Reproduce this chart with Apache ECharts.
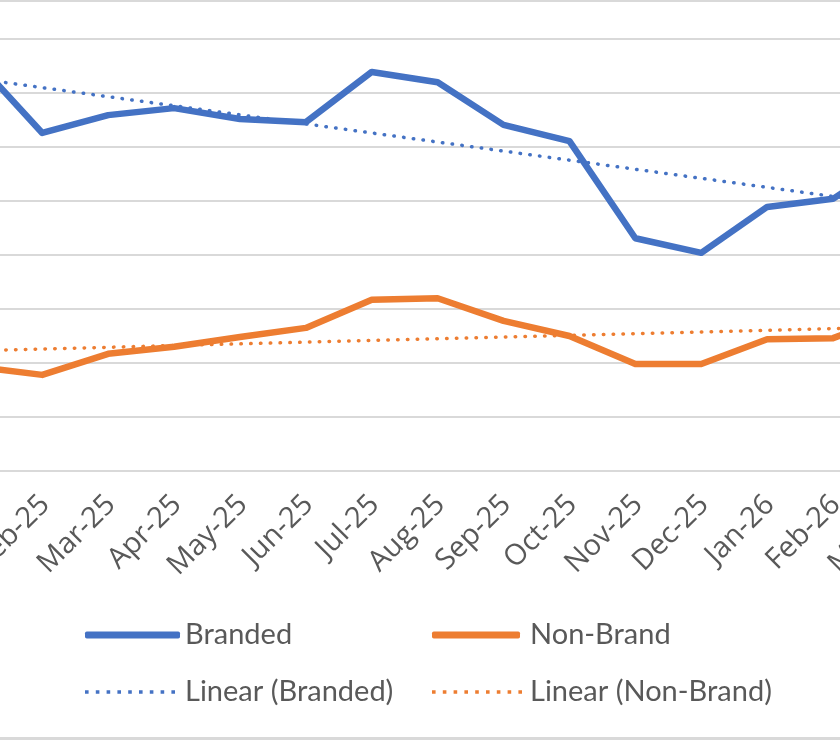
<!DOCTYPE html>
<html>
<head>
<meta charset="utf-8">
<script src="https://cdn.jsdelivr.net/npm/echarts@6/dist/echarts.min.js"></script>
<style>
  html, body { margin: 0; padding: 0; overflow: hidden; background: #fff; }
  /* chart is wider than the window: the reference is cropped left and right */
  #chart { position: absolute; left: -100px; top: 0; width: 1100px; height: 740px; }
</style>
</head>
<body>
<div id="chart"></div>
<script>
const months = ['Jan-25', 'Feb-25', 'Mar-25', 'Apr-25', 'May-25', 'Jun-25', 'Jul-25', 'Aug-25',
  'Sep-25', 'Oct-25', 'Nov-25', 'Dec-25', 'Jan-26', 'Feb-26', 'Mar-26']
const branded = [7590, 6260, 6590, 6720, 6520, 6460, 7390, 7200, 6410, 6110, 4310, 4040, 4890, 5040, 5850]
const nonBrand = [1930, 1780, 2170, 2300, 2480, 2650, 3170, 3200, 2780, 2500, 1980, 1980, 2440, 2460, 2910]

const BLUE = '#4472C4'
const ORANGE = '#ED7D31'
const GRID = '#d9d9d9'
const TEXT = '#595959'
const FONT = 'Lato, "Open Sans", sans-serif'

// least squares trend, same as Excel "Linear" trendline
function linearTrend(values) {
  const n = values.length
  let sx = 0, sy = 0, sxy = 0, sxx = 0
  values.forEach((v, i) => { sx += i; sy += v; sxy += i * v; sxx += i * i })
  const slope = (n * sxy - sx * sy) / (n * sxx - sx * sx)
  const b = (sy - slope * sx) / n
  return values.map((v, i) => +(b + slope * i).toFixed(1))
}

// 9 little dots for the trendline legend icon
let dots = ''
for (let i = 0; i < 9; i++) dots += 'M' + (i * 3) + ',0h1v1h-1z'
const dotIcon = 'path://' + dots

const chart = echarts.init(document.getElementById('chart'))

function legendAt(name, left, top, icon, w, h, gap) {
  return {
    data: [{ name: name, icon: icon }],
    left: left, top: top, padding: 0,
    itemWidth: w, itemHeight: h, itemGap: 0,
    textStyle: { fontFamily: FONT, fontSize: 29, color: TEXT, lineHeight: 32, padding: [0, 0, 0, gap] },
    selectedMode: false
  }
}

chart.setOption({
  animation: false,
  grid: { left: 43.4, top: 39, width: 988.5, height: 432 },
  legend: [
    legendAt('Branded', 185, 619, 'roundRect', 95, 7, 0),
    legendAt('Non-Brand', 532, 619, 'roundRect', 88, 7, 5),
    legendAt('Linear (Branded)', 185, 676, dotIcon, 90, 3.6, 5),
    legendAt('Linear (Non-Brand)', 532, 676, dotIcon, 90, 3.6, 3)
  ],
  xAxis: {
    type: 'category',
    data: months,
    axisLine: { lineStyle: { color: GRID, width: 2 } },
    axisTick: { length: 7, lineStyle: { color: GRID, width: 2 } },
    axisLabel: {
      rotate: 45, margin: 32, fontFamily: '"Open Sans", sans-serif', fontSize: 29, color: TEXT, interval: 0,
      padding: [0, -4, 0, 0]
    }
  },
  yAxis: {
    type: 'value',
    min: 0, max: 8000, interval: 1000,
    axisLine: { show: false },
    axisTick: { show: false },
    axisLabel: { show: false },
    splitLine: { lineStyle: { color: GRID, width: 2 } }
  },
  series: [
    {
      name: 'Branded', type: 'line', data: branded, symbol: 'none',
      color: BLUE, lineStyle: { width: 6.5, cap: 'round', join: 'round' }
    },
    {
      name: 'Non-Brand', type: 'line', data: nonBrand, symbol: 'none',
      color: ORANGE, lineStyle: { width: 6.5, cap: 'round', join: 'round' }
    },
    {
      name: 'Linear (Branded)', type: 'line', data: linearTrend(branded), symbol: 'none',
      color: BLUE, lineStyle: { width: 3.5, type: [0.5, 9.3], cap: 'round' }
    },
    {
      name: 'Linear (Non-Brand)', type: 'line', data: linearTrend(nonBrand), symbol: 'none',
      color: ORANGE, lineStyle: { width: 3.5, type: [0.5, 9.3], cap: 'round' }
    }
  ],
  graphic: [
    // chart area border, only top and bottom edges are inside the crop
    { type: 'rect', left: 0, top: 0, shape: { width: 1100, height: 2 }, style: { fill: GRID } },
    { type: 'rect', left: 0, top: 737, shape: { width: 1100, height: 3 }, style: { fill: GRID } }
  ]
})
</script>
</body>
</html>
